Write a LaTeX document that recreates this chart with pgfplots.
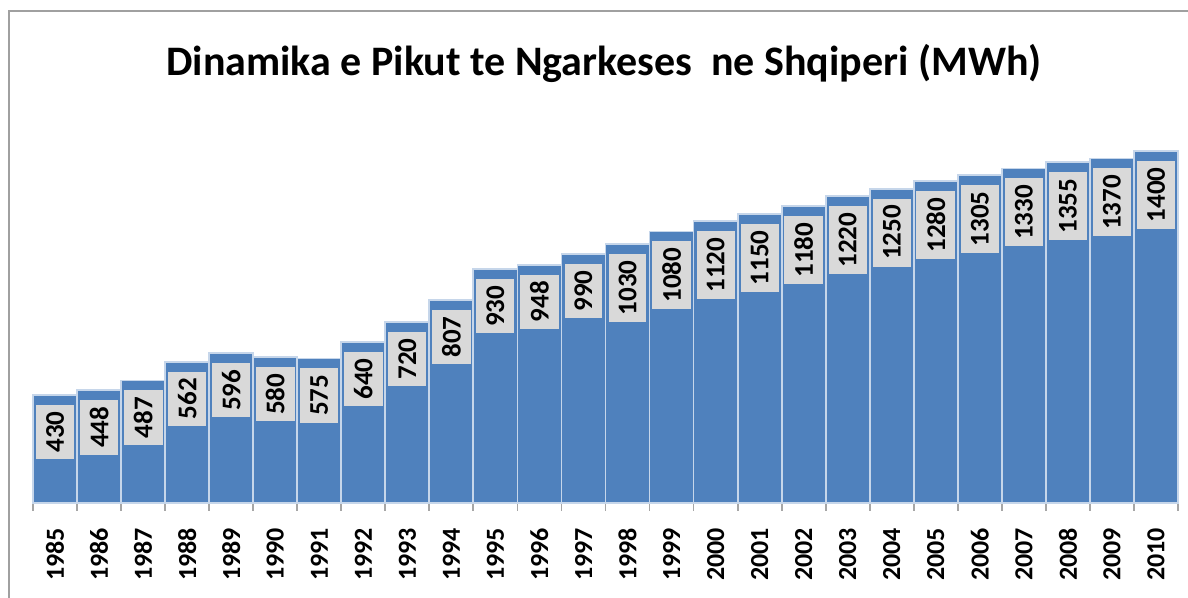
\documentclass[border=0pt]{standalone}
\usepackage{fontspec}
\setmainfont{Carlito}
\usepackage{pgfplots}
\pgfplotsset{compat=1.18}

\definecolor{barblue}{HTML}{4F81BD}
\definecolor{baredge}{HTML}{C6D6EA}
\definecolor{labelgray}{HTML}{D9D9D9}
\definecolor{framegray}{HTML}{A0A0A0}
\definecolor{axisgray}{HTML}{A6A6A6}

\begin{document}
\begin{tikzpicture}
\useasboundingbox (-16.5pt,-47.5pt) rectangle (577.5pt,251.5pt);
\fill[white] (-16.5pt,-47.5pt) rectangle (577.5pt,251.5pt);
% chart frame (only left and top edges are inside the picture)
\draw[framegray, line width=0.9pt] (-12pt,-60pt) -- (-12pt,246pt) -- (600pt,246pt);

\node[font=\bfseries\fontsize{21}{25}\selectfont] at (285.5pt,220pt)
  {Dinamika e Pikut te Ngarkeses\ \ ne Shqiperi (MWh)};

\begin{axis}[
    at={(0,0)}, anchor=south west,
    width=572.5pt, height=176pt,
    scale only axis,
    ybar,
    bar width=1,
    xmin=-0.5, xmax=25.5,
    ymin=0, ymax=1400,
    clip=false,
    axis x line*=bottom,
    axis y line=none,
    x axis line style={axisgray, line width=0.9pt, -},
    xtick={0,...,25},
    xticklabels={1985,1986,1987,1988,1989,1990,1991,1992,1993,1994,1995,1996,1997,
                 1998,1999,2000,2001,2002,2003,2004,2005,2006,2007,2008,2009,2010},
    major tick length=0pt,
    minor xtick={-0.5,0.5,...,25.5},
    minor tick length=4pt,
    tick align=outside,
    minor tick style={axisgray, line width=0.9pt},
    xticklabel style={rotate=90, anchor=east, font=\bfseries\fontsize{13}{15}\selectfont,
                      xshift=-9pt},
    ytick=\empty,
    /pgf/number format/assume math mode=true,
    /pgf/number format/1000 sep={},
    nodes near coords,
    nodes near coords style={yshift=-4.5pt, rotate=90, anchor=east,
        fill=labelgray, text=black, inner xsep=3.3pt, inner ysep=5pt,
        font=\bfseries\fontsize{13.5}{15}\selectfont},
]
\addplot[fill=barblue, draw=baredge, line width=0.9pt] coordinates {
  (0,430) (1,448) (2,487) (3,562) (4,596) (5,580) (6,575) (7,640) (8,720)
  (9,807) (10,930) (11,948) (12,990) (13,1030) (14,1080) (15,1120) (16,1150)
  (17,1180) (18,1220) (19,1250) (20,1280) (21,1305) (22,1330) (23,1355)
  (24,1370) (25,1400)
};
\end{axis}
\end{tikzpicture}
\end{document}
